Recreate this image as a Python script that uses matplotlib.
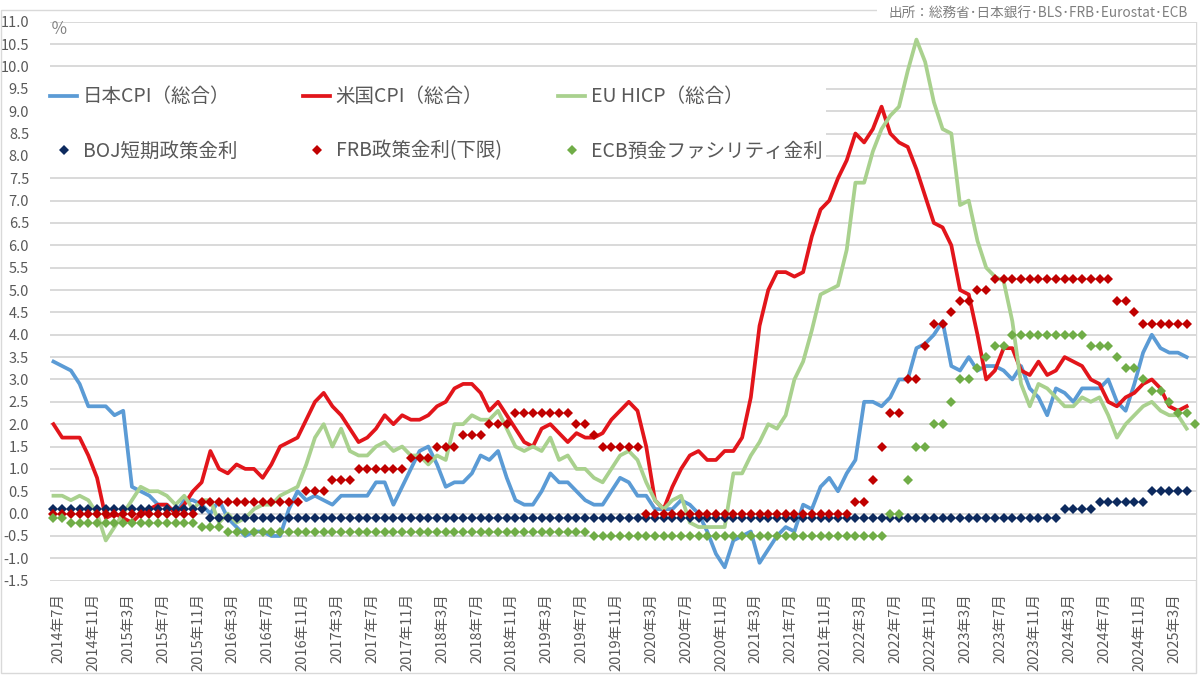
import numpy as np
import matplotlib
matplotlib.use("Agg")
import matplotlib.pyplot as plt
import matplotlib.transforms as mtransforms
from matplotlib.patches import Rectangle
from matplotlib.lines import Line2D

plt.rcParams['font.family'] = ['Noto Sans CJK JP', 'DejaVu Sans']

# ---------------- data (monthly, 2014年7月 - 2025年6月) ----------------
start_year, start_month, n_months = 2014, 7, 132
months = []
for k in range(n_months):
    y = start_year + (start_month - 1 + k) // 12
    m = (start_month - 1 + k) % 12 + 1
    months.append(f"{y}年{m}月")
label_step = 4

jp_cpi = [3.4, 3.3, 3.2, 2.9, 2.4, 2.4,
          2.4, 2.2, 2.3, 0.6, 0.5, 0.4, 0.2, 0.2, 0.0, 0.3, 0.3, 0.2,
          0.0, 0.3, -0.1, -0.3, -0.5, -0.4, -0.4, -0.5, -0.5, 0.1, 0.5, 0.3,
          0.4, 0.3, 0.2, 0.4, 0.4, 0.4, 0.4, 0.7, 0.7, 0.2, 0.6, 1.0,
          1.4, 1.5, 1.1, 0.6, 0.7, 0.7, 0.9, 1.3, 1.2, 1.4, 0.8, 0.3,
          0.2, 0.2, 0.5, 0.9, 0.7, 0.7, 0.5, 0.3, 0.2, 0.2, 0.5, 0.8,
          0.7, 0.4, 0.4, 0.1, 0.1, 0.1, 0.3, 0.2, 0.0, -0.4, -0.9, -1.2,
          -0.6, -0.5, -0.4, -1.1, -0.8, -0.5, -0.3, -0.4, 0.2, 0.1, 0.6, 0.8,
          0.5, 0.9, 1.2, 2.5, 2.5, 2.4, 2.6, 3.0, 3.0, 3.7, 3.8, 4.0,
          4.3, 3.3, 3.2, 3.5, 3.2, 3.3, 3.3, 3.2, 3.0, 3.3, 2.8, 2.6,
          2.2, 2.8, 2.7, 2.5, 2.8, 2.8, 2.8, 3.0, 2.5, 2.3, 2.9, 3.6,
          4.0, 3.7, 3.6, 3.6, 3.5]

us_cpi = [2.0, 1.7, 1.7, 1.7, 1.3, 0.8,
          -0.1, 0.0, -0.1, -0.2, 0.0, 0.1, 0.2, 0.2, 0.0, 0.2, 0.5, 0.7,
          1.4, 1.0, 0.9, 1.1, 1.0, 1.0, 0.8, 1.1, 1.5, 1.6, 1.7, 2.1,
          2.5, 2.7, 2.4, 2.2, 1.9, 1.6, 1.7, 1.9, 2.2, 2.0, 2.2, 2.1,
          2.1, 2.2, 2.4, 2.5, 2.8, 2.9, 2.9, 2.7, 2.3, 2.5, 2.2, 1.9,
          1.6, 1.5, 1.9, 2.0, 1.8, 1.6, 1.8, 1.7, 1.7, 1.8, 2.1, 2.3,
          2.5, 2.3, 1.5, 0.3, 0.1, 0.6, 1.0, 1.3, 1.4, 1.2, 1.2, 1.4,
          1.4, 1.7, 2.6, 4.2, 5.0, 5.4, 5.4, 5.3, 5.4, 6.2, 6.8, 7.0,
          7.5, 7.9, 8.5, 8.3, 8.6, 9.1, 8.5, 8.3, 8.2, 7.7, 7.1, 6.5,
          6.4, 6.0, 5.0, 4.9, 4.0, 3.0, 3.2, 3.7, 3.7, 3.2, 3.1, 3.4,
          3.1, 3.2, 3.5, 3.4, 3.3, 3.0, 2.9, 2.5, 2.4, 2.6, 2.7, 2.9,
          3.0, 2.8, 2.4, 2.3, 2.4]

eu_hicp = [0.4, 0.4, 0.3, 0.4, 0.3, 0.0,
           -0.6, -0.3, 0.0, 0.3, 0.6, 0.5, 0.5, 0.4, 0.2, 0.4, 0.1, 0.3,
           0.3, -0.2, 0.0, -0.2, -0.1, 0.1, 0.2, 0.2, 0.4, 0.5, 0.6, 1.1,
           1.7, 2.0, 1.5, 1.9, 1.4, 1.3, 1.3, 1.5, 1.6, 1.4, 1.5, 1.3,
           1.3, 1.1, 1.3, 1.2, 2.0, 2.0, 2.2, 2.1, 2.1, 2.3, 1.9, 1.5,
           1.4, 1.5, 1.4, 1.7, 1.2, 1.3, 1.0, 1.0, 0.8, 0.7, 1.0, 1.3,
           1.4, 1.2, 0.7, 0.3, 0.1, 0.3, 0.4, -0.2, -0.3, -0.3, -0.3, -0.3,
           0.9, 0.9, 1.3, 1.6, 2.0, 1.9, 2.2, 3.0, 3.4, 4.1, 4.9, 5.0,
           5.1, 5.9, 7.4, 7.4, 8.1, 8.6, 8.9, 9.1, 9.9, 10.6, 10.1, 9.2,
           8.6, 8.5, 6.9, 7.0, 6.1, 5.5, 5.3, 5.2, 4.3, 2.9, 2.4, 2.9,
           2.8, 2.6, 2.4, 2.4, 2.6, 2.5, 2.6, 2.2, 1.7, 2.0, 2.2, 2.4,
           2.5, 2.3, 2.2, 2.2, 1.9]

boj_rate = [0.1, 0.1, 0.1, 0.1, 0.1, 0.1,
            0.1, 0.1, 0.1, 0.1, 0.1, 0.1, 0.1, 0.1, 0.1, 0.1, 0.1, 0.1,
            -0.1, -0.1, -0.1, -0.1, -0.1, -0.1, -0.1, -0.1, -0.1, -0.1, -0.1, -0.1,
            -0.1, -0.1, -0.1, -0.1, -0.1, -0.1, -0.1, -0.1, -0.1, -0.1, -0.1, -0.1,
            -0.1, -0.1, -0.1, -0.1, -0.1, -0.1, -0.1, -0.1, -0.1, -0.1, -0.1, -0.1,
            -0.1, -0.1, -0.1, -0.1, -0.1, -0.1, -0.1, -0.1, -0.1, -0.1, -0.1, -0.1,
            -0.1, -0.1, -0.1, -0.1, -0.1, -0.1, -0.1, -0.1, -0.1, -0.1, -0.1, -0.1,
            -0.1, -0.1, -0.1, -0.1, -0.1, -0.1, -0.1, -0.1, -0.1, -0.1, -0.1, -0.1,
            -0.1, -0.1, -0.1, -0.1, -0.1, -0.1, -0.1, -0.1, -0.1, -0.1, -0.1, -0.1,
            -0.1, -0.1, -0.1, -0.1, -0.1, -0.1, -0.1, -0.1, -0.1, -0.1, -0.1, -0.1,
            -0.1, -0.1, 0.1, 0.1, 0.1, 0.1, 0.25, 0.25, 0.25, 0.25, 0.25, 0.25,
            0.5, 0.5, 0.5, 0.5, 0.5]

frb_rate = [0, 0, 0, 0, 0, 0,
            0, 0, 0, 0, 0, 0, 0, 0, 0, 0, 0, 0.25,
            0.25, 0.25, 0.25, 0.25, 0.25, 0.25, 0.25, 0.25, 0.25, 0.25, 0.25, 0.5,
            0.5, 0.5, 0.75, 0.75, 0.75, 1.0, 1.0, 1.0, 1.0, 1.0, 1.0, 1.25,
            1.25, 1.25, 1.5, 1.5, 1.5, 1.75, 1.75, 1.75, 2.0, 2.0, 2.0, 2.25,
            2.25, 2.25, 2.25, 2.25, 2.25, 2.25, 2.0, 2.0, 1.75, 1.5, 1.5, 1.5,
            1.5, 1.5, 0, 0, 0, 0, 0, 0, 0, 0, 0, 0,
            0, 0, 0, 0, 0, 0, 0, 0, 0, 0, 0, 0,
            0, 0, 0.25, 0.25, 0.75, 1.5, 2.25, 2.25, 3.0, 3.0, 3.75, 4.25,
            4.25, 4.5, 4.75, 4.75, 5.0, 5.0, 5.25, 5.25, 5.25, 5.25, 5.25, 5.25,
            5.25, 5.25, 5.25, 5.25, 5.25, 5.25, 5.25, 5.25, 4.75, 4.75, 4.5, 4.25,
            4.25, 4.25, 4.25, 4.25, 4.25]

ecb_rate = [-0.1, -0.1, -0.2, -0.2, -0.2, -0.2,
            -0.2, -0.2, -0.2, -0.2, -0.2, -0.2, -0.2, -0.2, -0.2, -0.2, -0.2, -0.3,
            -0.3, -0.3, -0.4, -0.4, -0.4, -0.4, -0.4, -0.4, -0.4, -0.4, -0.4, -0.4,
            -0.4, -0.4, -0.4, -0.4, -0.4, -0.4, -0.4, -0.4, -0.4, -0.4, -0.4, -0.4,
            -0.4, -0.4, -0.4, -0.4, -0.4, -0.4, -0.4, -0.4, -0.4, -0.4, -0.4, -0.4,
            -0.4, -0.4, -0.4, -0.4, -0.4, -0.4, -0.4, -0.4, -0.5, -0.5, -0.5, -0.5,
            -0.5, -0.5, -0.5, -0.5, -0.5, -0.5, -0.5, -0.5, -0.5, -0.5, -0.5, -0.5,
            -0.5, -0.5, -0.5, -0.5, -0.5, -0.5, -0.5, -0.5, -0.5, -0.5, -0.5, -0.5,
            -0.5, -0.5, -0.5, -0.5, -0.5, -0.5, 0.0, 0.0, 0.75, 1.5, 1.5, 2.0,
            2.0, 2.5, 3.0, 3.0, 3.25, 3.5, 3.75, 3.75, 4.0, 4.0, 4.0, 4.0,
            4.0, 4.0, 4.0, 4.0, 4.0, 3.75, 3.75, 3.75, 3.5, 3.25, 3.25, 3.0,
            2.75, 2.75, 2.5, 2.25, 2.25, 2.0]

labels_line = ['日本CPI（総合）', '米国CPI（総合）', 'EU HICP（総合）']
labels_dot = ['BOJ短期政策金利', 'FRB政策金利(下限)', 'ECB預金ファシリティ金利']
source_text = '出所：総務省･日本銀行･BLS･FRB･Eurostat･ECB'
unit_text = '％'

# ---------------- styling ----------------
c_jp, c_us, c_eu = '#5B9BD5', '#E2151B', '#A9D18E'
c_boj, c_frb, c_ecb = '#0D2A5E', '#C00000', '#70AD47'
txt_gray = '#595959'
grid_gray = '#D9D9D9'

W, H = 1200, 675
fig = plt.figure(figsize=(12, 6.75), dpi=100)
fig.patch.set_facecolor('white')

px_l, px_r, px_t, px_b = 49.9, 1196.0, 21.7, 580.7
ax = fig.add_axes([px_l / W, 1 - px_b / H, (px_r - px_l) / W, (px_b - px_t) / H])

lw = 2.7
ms = 5.3
x_all = np.arange(n_months)
ax.plot(x_all[:len(jp_cpi)], jp_cpi, color=c_jp, lw=lw, zorder=3, solid_joinstyle='round')
ax.plot(x_all[:len(us_cpi)], us_cpi, color=c_us, lw=lw, zorder=3, solid_joinstyle='round')
ax.plot(x_all[:len(eu_hicp)], eu_hicp, color=c_eu, lw=lw, zorder=3, solid_joinstyle='round')
ax.plot(x_all[:len(boj_rate)], boj_rate, ls='none', marker='D', ms=ms, mew=0, color=c_boj, zorder=4, clip_on=False)
ax.plot(x_all[:len(frb_rate)], frb_rate, ls='none', marker='D', ms=ms, mew=0, color=c_frb, zorder=4, clip_on=False)
ax.plot(x_all[:len(ecb_rate)], ecb_rate, ls='none', marker='D', ms=ms, mew=0, color=c_ecb, zorder=4, clip_on=False)

ax.set_xlim(-0.41, 131.07)
ax.set_ylim(-1.5, 11.0)
yt = np.arange(-1.5, 11.01, 0.5)
ax.set_yticks(yt)
ax.set_yticklabels([f"{v:.1f}" for v in yt])
ax.yaxis.grid(True, color=grid_gray, lw=1.4)
ax.set_axisbelow(True)
for s in ax.spines.values():
    s.set_visible(False)
ax.tick_params(axis='y', length=0, pad=15, labelsize=10.5, labelcolor=txt_gray)

xt = list(range(0, n_months, label_step))
ax.set_xticks(xt)
ax.set_xticklabels([months[i] for i in xt], rotation=90)
ax.tick_params(axis='x', length=0, pad=9, labelsize=10.5, labelcolor=txt_gray)
offset = mtransforms.ScaledTranslation(5 / 100, 0, fig.dpi_scale_trans)
for lab in ax.get_xticklabels():
    lab.set_transform(lab.get_transform() + offset)

# chart frame
fig.add_artist(Rectangle((1 / W, 1 - 673 / H), (px_r - 1) / W, (673 - 10) / H,
                         transform=fig.transFigure, fill=False, ec=grid_gray, lw=1.0, zorder=0))
fig.add_artist(Rectangle((877 / W, 1 - 22 / H), (W - 877) / W, 22 / H,
                         transform=fig.transFigure, fc='white', ec='none', zorder=5))
fig.text(888 / W, 1 - 13 / H, source_text, fontsize=9.8, color='#7F7F7F',
         ha='left', va='center', zorder=6)
fig.text(51 / W, 1 - 30 / H, unit_text, fontsize=12, color='#7F7F7F', ha='left', va='center')

# legend: white band behind, three columns at fixed positions
fig.add_artist(Rectangle((50 / W, 1 - 169 / H), (826 - 50) / W, (169 - 74) / H,
                         transform=fig.transFigure, fc='white', ec='none', zorder=1))
fs = 14
col_x = [50, 303, 558]
line_colors = [c_jp, c_us, c_eu]
dot_colors = [c_boj, c_frb, c_ecb]
for j in range(3):
    hs = [Line2D([], [], color=line_colors[j], lw=lw),
          Line2D([], [], ls='none', marker='D', ms=ms, mew=0, color=dot_colors[j])]
    lg = fig.legend(hs, [labels_line[j], labels_dot[j]], loc='upper left',
                    bbox_to_anchor=(col_x[j] / W, 1 - 86.5 / H), bbox_transform=fig.transFigure,
                    fontsize=fs, labelcolor=txt_gray, frameon=False, borderpad=0,
                    borderaxespad=0, handlelength=1.4, handletextpad=0.28,
                    labelspacing=1.7, numpoints=1)
    lg.set_zorder(6)

fig.savefig('out.png', dpi=100, facecolor='white')
